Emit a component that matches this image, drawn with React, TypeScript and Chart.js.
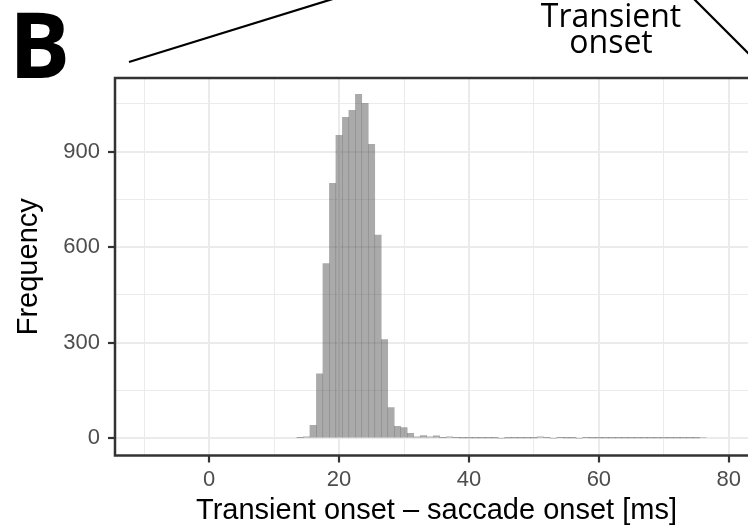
import React, { useEffect, useRef } from 'react';
import { Chart, registerables } from 'chart.js';

Chart.register(...registerables);

// ---- data (1 ms bins) ----
const binCenters = [
  14, 15, 16, 17, 18, 19, 20, 21, 22, 23, 24, 25, 26, 27, 28, 29, 30,
  31, 32, 33, 34, 35, 36, 37, 38, 39, 40, 41, 42, 43, 44, 45, 46, 47,
  48, 49, 50, 51, 52, 53, 54, 55, 56, 57, 58, 59, 60, 61, 62, 63, 64,
  65, 66, 67, 68, 69, 70, 71, 72, 73, 74, 75, 76,
];
const counts = [
  2, 5, 41, 203, 549, 801, 951, 1008, 1030, 1080, 1052, 923, 638, 310, 97, 38, 34,
  16, 5, 9, 5, 8, 2, 5, 2, 1, 1, 1, 1, 1, 1, 0, 1, 1,
  1, 1, 1, 5, 2, 0, 2, 1, 1, 0, 2, 1, 1, 1, 1, 1, 1,
  1, 1, 1, 1, 1, 1, 1, 1, 1, 1, 1, 3,
];
const xMajorTicks = [0, 20, 40, 60, 80];
const xMinorTicks = [-10, 10, 30, 50, 70];
const yMajorTicks = [0, 300, 600, 900];
const yMinorTicks = [150, 450, 750, 1050];
const xLimits = [-14.5, 84.5];
const yLimits = [-54, 1131];
const xTitle = 'Transient onset \u2013 saccade onset [ms]';
const yTitle = 'Frequency';
const panelLabel = 'B';
const annotationText = ['Transient', 'onset'];

const AXIS_FONT = "'Liberation Sans', Arial, Helvetica, sans-serif";
const DECOR_FONT = "'Open Sans', 'Noto Sans', sans-serif";

const decorPlugin = {
  id: 'decor',
  afterDatasetsDraw(chart: any) {
    const { ctx, chartArea: a } = chart;
    ctx.save();
    ctx.strokeStyle = '#333333';
    ctx.lineWidth = 2.5;
    ctx.strokeRect(a.left, a.top, a.right - a.left, a.bottom - a.top);
    ctx.restore();
  },
  afterDraw(chart: any) {
    const { ctx } = chart;
    ctx.save();
    // panel letter
    ctx.fillStyle = '#000000';
    ctx.font = `bold 91px ${DECOR_FONT}`;
    ctx.textAlign = 'left';
    ctx.textBaseline = 'alphabetic';
    const m = ctx.measureText(panelLabel);
    ctx.fillText(panelLabel, 17 + (m.actualBoundingBoxLeft || 0), 78);

    // schematic lines
    ctx.strokeStyle = '#000000';
    ctx.lineWidth = 2.2;
    ctx.beginPath();
    ctx.moveTo(129, 62);
    ctx.lineTo(336, -2);
    ctx.stroke();
    ctx.beginPath();
    ctx.moveTo(692, -3);
    ctx.lineTo(762, 67);
    ctx.stroke();

    // annotation text
    ctx.font = `32px ${DECOR_FONT}`;
    ctx.textAlign = 'center';
    ctx.fillText(annotationText[0], 611, 27);
    ctx.fillText(annotationText[1], 611, 53);
    ctx.restore();
  },
};

export default function App() {
  const ref = useRef<HTMLCanvasElement>(null);

  useEffect(() => {
    const canvas = ref.current;
    if (!canvas) return;
    const isXMajor = (v: number) => xMajorTicks.includes(v);
    const isYMajor = (v: number) => yMajorTicks.includes(v);

    const chart = new Chart(canvas, {
      type: 'bar',
      data: {
        datasets: [
          {
            label: 'Frequency',
            data: binCenters.map((x, i) => ({ x, y: counts[i] })),
            backgroundColor: 'rgba(77,77,77,0.48)',
            borderWidth: 0,
            inflateAmount: 0.25,
            barPercentage: 1,
            categoryPercentage: 1,
          },
        ],
      },
      options: {
        responsive: false,
        animation: false,
        events: [],
        layout: { padding: { left: 0, top: 78, right: 42, bottom: 0 } },
        plugins: { legend: { display: false }, tooltip: { enabled: false } },
        scales: {
          x: {
            type: 'linear',
            min: xLimits[0],
            max: xLimits[1],
            offset: false,
            afterBuildTicks: (s: any) => {
              s.ticks = [...xMinorTicks, ...xMajorTicks]
                .sort((a, b) => a - b)
                .map((v) => ({ value: v }));
            },
            afterFit: (s: any) => {
              s.height = 74.5;
            },
            ticks: {
              autoSkip: false,
              maxRotation: 0,
              padding: 4,
              color: '#4d4d4d',
              font: { family: AXIS_FONT, size: 22 },
              callback: (v: any) => (isXMajor(Number(v)) ? String(v) : ''),
            },
            grid: {
              offset: false,
              color: '#ebebeb',
              lineWidth: (c: any) => (c.tick && isXMajor(c.tick.value) ? 2 : 1),
              drawTicks: true,
              tickLength: 7,
              tickWidth: 2.2,
              tickColor: (c: any) =>
                c.tick && isXMajor(c.tick.value) ? '#333333' : 'rgba(0,0,0,0)',
            },
            border: { display: false },
            title: {
              display: true,
              text: xTitle,
              color: '#000000',
              font: { family: AXIS_FONT, size: 29 },
              padding: { top: 0, bottom: 2 },
            },
          },
          y: {
            type: 'linear',
            min: yLimits[0],
            max: yLimits[1],
            afterBuildTicks: (s: any) => {
              s.ticks = [...yMinorTicks, ...yMajorTicks]
                .sort((a, b) => a - b)
                .map((v) => ({ value: v }));
            },
            afterFit: (s: any) => {
              s.width = 115;
            },
            ticks: {
              autoSkip: false,
              padding: 8,
              color: '#4d4d4d',
              font: { family: AXIS_FONT, size: 22 },
              callback: (v: any) => (isYMajor(Number(v)) ? String(v) : ''),
            },
            grid: {
              color: '#ebebeb',
              lineWidth: (c: any) => (c.tick && isYMajor(c.tick.value) ? 2 : 1),
              drawTicks: true,
              tickLength: 7,
              tickWidth: 2.2,
              tickColor: (c: any) =>
                c.tick && isYMajor(c.tick.value) ? '#333333' : 'rgba(0,0,0,0)',
            },
            border: { display: false },
            title: {
              display: true,
              text: yTitle,
              color: '#000000',
              font: { family: AXIS_FONT, size: 29 },
              padding: { top: 12, bottom: 0 },
            },
          },
        },
      } as any,
      plugins: [decorPlugin],
    });
    return () => chart.destroy();
  }, []);

  return (
    <div
      style={{
        position: 'fixed',
        left: 0,
        top: 0,
        width: 748,
        height: 530,
        overflow: 'hidden',
        background: '#ffffff',
      }}
    >
      <canvas ref={ref} width={800} height={530} style={{ display: 'block', width: 800, height: 530 }} />
    </div>
  );
}
